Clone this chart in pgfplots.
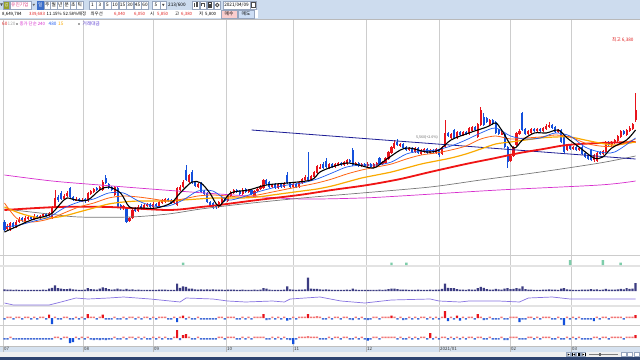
\documentclass[border=0pt]{standalone}
\usepackage{pgfplots}
\pgfplotsset{compat=1.18}
\usepackage{pgfplotstable}
\usepackage{fontspec}
\setmainfont{Noto Sans CJK KR}
\newcommand\tf{\fontsize{4.7}{5.2}\selectfont}
\newcommand\rf{\fontsize{4.4}{5}\selectfont}
\newcommand\sfs{\fontsize{4.5}{5}\selectfont}
\definecolor{tbbg}{RGB}{205,220,238}
\definecolor{cup}{RGB}{232,20,28}
\definecolor{cdn}{RGB}{20,80,220}
\definecolor{cupl}{RGB}{242,120,120}
\definecolor{cdnl}{RGB}{70,110,215}
\definecolor{ma10}{RGB}{30,90,240}
\definecolor{ma20}{RGB}{255,100,20}
\definecolor{ma40}{RGB}{250,170,0}
\definecolor{ma60}{RGB}{240,20,20}
\definecolor{ma120}{RGB}{120,120,120}
\definecolor{ma240}{RGB}{215,45,205}
\definecolor{trend}{RGB}{30,30,150}
\definecolor{cvol}{RGB}{60,60,130}
\definecolor{cpur}{RGB}{135,115,225}
\definecolor{cgrn}{RGB}{125,205,170}
\definecolor{gridc}{RGB}{205,205,205}
\definecolor{dateb}{RGB}{214,226,240}
\definecolor{navyb}{RGB}{46,68,112}
\definecolor{btnb}{RGB}{150,165,190}
\definecolor{selb}{RGB}{60,110,200}
\definecolor{txr}{RGB}{225,30,30}
\definecolor{txp}{RGB}{220,60,130}
\definecolor{txv}{RGB}{90,60,210}
\definecolor{olivec}{RGB}{150,160,40}
\definecolor{mbuy}{RGB}{250,205,205}
\definecolor{msell}{RGB}{205,222,245}
\newcommand{\btn}[3]{\draw[line width=0.4bp,btnb,fill=white] (#1,1) rectangle (#2,9); \node[inner sep=0pt] at ({(#1+#2)/2},5) {#3};}
\pgfplotsset{pan/.style={scale only axis, width=640bp, xmin=-1.5, xmax=213.5, axis lines=none, ticks=none, anchor=south west, clip=true}}
% o h l c = price, v = volume (thousand shares), p,q = lower indicator panels
\pgfplotstableread{
o h l c v p q
3800 3840 3620 3640 1800 -3 -3
3660 3760 3640 3720 1400 3 -3
3640 3800 3620 3780 1600 3 3
3780 3800 3680 3700 1200 -3 -3
3700 3840 3680 3800 1400 3 -3
3800 3900 3780 3860 1300 3 -3
3880 3900 3800 3820 1100 -3 -3
3820 3920 3800 3880 1200 3 -3
3860 3940 3840 3900 1300 3 -3
3900 3920 3840 3860 1100 -3 -3
3860 3960 3840 3920 1300 3 -3
3920 3940 3860 3880 1100 -3 -3
3880 3940 3860 3920 1200 3 -3
3920 3980 3900 3960 1400 3 -3
3960 3980 3900 3920 1200 -3 -3
3920 4000 3900 3980 2500 7 -3
3880 4120 3860 4100 3500 -12 -3
4100 4440 4080 4280 6000 3 3
4300 4340 4200 4240 3000 -3 3
4380 4420 4240 4260 2500 -3 -3
4260 4360 4240 4320 2000 3 3
4320 4420 4300 4380 2000 3 3
4480 4500 4280 4300 2500 -3 -10
4300 4320 4220 4240 1800 -3 -8
4240 4300 4220 4260 1400 3 3
4260 4280 4200 4220 1300 -3 -3
4220 4280 4200 4240 1300 3 3
4260 4280 4180 4220 1500 -3 -3
4220 4400 4200 4380 3000 8 3
4360 4440 4340 4420 2000 3 -3
4400 4480 4380 4460 1800 3 -4
4480 4500 4420 4440 1600 -3 -3
4440 4520 4420 4500 2500 3 -4
4440 4640 4420 4600 4000 7 -3
4680 4740 4560 4580 3000 -3 -4
4560 4580 4460 4500 2000 -3 -3
4500 4520 4420 4440 1600 -3 -3
4340 4520 4320 4500 1800 3 3
4480 4500 4080 4100 2500 -3 -3
4140 4160 4040 4080 1800 -3 -3
4080 4140 4040 4120 1400 3 3
4080 4100 3780 3800 2200 -3 -3
3820 3900 3800 3880 1600 3 3
3880 4060 3860 4040 1800 3 3
4060 4100 4000 4020 1300 -3 -3
4020 4140 4000 4100 1400 3 3
4120 4160 4040 4060 1200 -3 -3
4060 4160 4040 4140 1300 3 3
4120 4180 4100 4160 1200 3 -3
4160 4180 4080 4100 1100 -3 -3
4100 4200 4080 4160 1200 3 3
4160 4180 4100 4120 1100 -3 -3
4120 4220 4100 4200 1400 3 3
4180 4260 4160 4240 1500 3 -3
4200 4280 4180 4260 1400 3 3
4260 4280 4200 4220 1200 -3 -3
4240 4260 4160 4180 1300 -3 -3
4180 4240 4160 4220 1200 3 3
4140 4500 4120 4480 8000 -8 16
4440 4540 4420 4500 3500 3 -4
4500 4640 4480 4600 5000 5 6
4840 4940 4620 4640 4500 -3 8
4600 4760 4580 4740 2500 3 3
4800 4840 4560 4580 2500 -3 -3
4600 4620 4500 4520 1800 -3 -3
4500 4580 4480 4560 1500 3 3
4580 4600 4380 4400 1800 -3 -3
4420 4440 4340 4360 1500 -3 -3
4380 4400 4180 4200 1800 -3 -3
4200 4220 4100 4140 1600 -3 -3
4180 4200 4060 4080 1700 -3 -3
4140 4160 4060 4100 1400 -3 -3
4100 4220 4080 4200 1500 3 3
4180 4300 4160 4280 1600 3 3
4280 4300 4200 4220 1300 -3 -3
4220 4340 4200 4320 1400 3 3
4320 4420 4300 4400 1500 3 3
4380 4460 4360 4440 1400 3 3
4440 4460 4380 4400 1200 -3 -3
4420 4440 4340 4360 1200 -3 -3
4360 4480 4340 4440 1400 3 3
4460 4480 4380 4400 1200 -3 -3
4400 4460 4380 4440 1200 3 3
4440 4460 4340 4360 1300 -3 -3
4300 4440 4280 4420 1400 3 3
4420 4480 4400 4460 1300 3 3
4460 4540 4440 4500 1500 3 3
4480 4660 4460 4640 3000 8 3
4640 4660 4540 4560 2500 -4 -3
4600 4620 4480 4500 1600 -3 -3
4500 4560 4480 4540 1300 3 3
4560 4580 4460 4480 1200 -3 -3
4480 4580 4460 4560 1300 3 3
4560 4580 4480 4500 1200 -3 -3
4500 4600 4480 4580 1400 3 3
4740 4800 4560 4580 5000 -5 -3
4580 4600 4480 4500 1800 -3 -4
4500 4580 4480 4560 1500 3 -12
4560 4580 4480 4500 1300 -3 -3
4500 4620 4480 4600 1500 3 3
4580 4680 4560 4660 1600 3 3
4640 4740 4620 4700 1700 3 3
4700 5200 4620 4640 14500 8 4
4640 4740 4620 4720 2500 3 3
4700 4820 4680 4800 2200 3 3
4780 4940 4760 4920 2400 4 3
4880 4960 4860 4900 1800 3 -3
4960 5000 4860 4880 1600 -3 -3
5020 5080 4880 4900 1800 -3 -3
4880 4980 4860 4960 1400 3 3
4960 4980 4880 4900 1300 -3 -3
4900 4980 4880 4960 1300 3 3
4940 5000 4920 4980 1200 3 3
4980 5000 4920 4940 1200 -3 -3
4940 5020 4920 5000 1300 3 3
4960 5060 4940 5040 1500 3 3
5040 5060 4980 5000 1300 -3 -3
5240 5280 4920 4940 2500 -4 -3
4940 5000 4920 4980 1400 3 3
4980 5000 4900 4920 1200 -3 -3
4920 4980 4900 4960 1200 3 3
4960 4980 4900 4920 1100 -3 -3
4920 5000 4900 4960 1200 -4 -5
4960 4980 4880 4900 1100 -3 -3
4900 4980 4880 4960 1200 3 3
4940 5000 4920 4980 1200 3 3
5080 5100 4940 4960 1500 -3 -3
4960 5020 4940 5000 1300 3 3
4980 5100 4960 5080 1600 3 3
5060 5220 5040 5200 2000 3 3
5180 5320 5160 5300 2500 5 3
5280 5440 5260 5380 2500 3 3
5400 5460 5320 5340 2000 -3 -3
5320 5380 5300 5360 1500 3 3
5360 5380 5260 5280 1600 -4 -3
5300 5320 5220 5240 1500 -3 -3
5240 5300 5220 5280 1300 3 3
5280 5300 5180 5200 1300 -3 -3
5200 5300 5180 5280 1300 3 3
5280 5300 5160 5180 1400 -3 -3
5160 5260 5140 5240 1300 3 3
5200 5280 5180 5260 1300 3 3
5260 5280 5160 5180 1300 -3 -3
5180 5260 5160 5240 1500 3 10
5240 5260 5180 5200 1300 -3 -3
5180 5280 5160 5260 1400 3 3
5240 5260 5100 5140 1600 -3 -3
5160 5320 5140 5300 2200 3 3
5300 5840 5280 5580 8000 14 3
5580 5600 5500 5520 3500 -6 -3
5480 5580 5460 5560 3000 3 3
5640 5660 5460 5480 3000 -3 -3
5480 5620 5460 5600 2000 5 3
5600 5620 5520 5540 1600 -5 -3
5540 5620 5520 5600 1500 3 3
5600 5620 5540 5560 1300 -3 -3
5560 5700 5540 5680 1800 3 3
5620 5720 5600 5700 1600 3 3
5700 5720 5620 5640 1400 -3 -3
5500 5780 5480 5760 3000 8 3
5740 6100 5720 6040 4500 3 3
5900 5980 5720 5740 3500 -4 -3
5880 5900 5780 5800 2000 -3 -3
5760 5860 5740 5840 1600 3 3
5840 5860 5740 5760 1500 -3 -3
5800 5820 5560 5580 2200 -3 -3
5640 5660 5540 5560 1800 -3 -3
5560 5620 5540 5580 1500 3 3
5560 5580 5280 5300 2500 -3 -4
5300 5320 4880 5000 3000 -3 -4
5020 5140 5000 5120 2000 3 3
5120 5320 5100 5300 2200 3 3
5340 5600 5320 5580 3000 3 3
5560 5660 5540 5620 2500 -8 -3
5980 6000 5620 5640 5000 -3 -3
5660 5680 5540 5560 2000 -3 -3
5560 5640 5540 5620 1600 3 3
5580 5680 5560 5660 1500 3 3
5660 5680 5600 5620 1300 -3 -3
5620 5680 5600 5660 1300 3 3
5660 5680 5600 5620 1200 -3 -3
5620 5700 5600 5680 1400 3 3
5660 5760 5640 5720 1600 3 3
5700 5800 5680 5740 1700 3 3
5740 5760 5660 5680 1400 -3 -3
5700 5720 5580 5600 1500 -3 -3
5600 5660 5580 5640 1300 3 3
5640 5660 5380 5400 2500 -3 -3
5500 5520 5180 5200 3000 -14 -3
5240 5360 5220 5340 1800 3 3
5340 5360 5240 5260 1500 -3 -3
5260 5320 5240 5300 1300 3 3
5300 5320 5220 5240 1300 -3 -3
5240 5300 5220 5280 1300 3 3
5300 5320 5140 5160 1600 -3 -3
5180 5200 5080 5100 1500 -3 -3
5120 5140 5040 5060 1500 -3 -3
5240 5260 5020 5040 2000 -3 -3
5040 5160 5000 5140 1600 -6 3
5020 5200 5000 5180 1700 3 3
5200 5220 5140 5160 1300 -3 -3
5160 5240 5140 5220 1400 3 3
5200 5420 5180 5400 2200 3 3
5400 5420 5320 5340 1600 -3 -3
5340 5420 5320 5400 1500 3 3
5380 5460 5360 5440 1500 3 3
5420 5540 5400 5520 1800 3 3
5500 5640 5480 5620 2200 3 3
5620 5640 5540 5560 1800 -3 -3
5540 5660 5520 5640 3000 3 3
5620 5720 5600 5680 2200 3 3
5660 5780 5640 5760 2500 3 3
5850 6380 5800 6040 8650 6 6
}\data
\begin{document}
\begin{tikzpicture}[x=1bp,y=1bp,font=\tf]
\useasboundingbox (0,0) rectangle (640,360);
\clip (0,0) rectangle (640,360);
\fill[white] (0,0) rectangle (640,360);
\begin{scope}[shift={(0,360)},yscale=-1]
  % toolbar
  \fill[tbbg] (0,0) rectangle (640,19.5);
  \draw[line width=0.8bp,gray!55] (0,19.6) -- (640,19.6);
  \fill[white] (0.5,10) rectangle (258,18.5);
  \fill[black!70] (0.2,3.5) -- (2.8,3.5) -- (1.5,6) -- cycle;
  \draw[line width=0.4bp,btnb,fill=olivec] (3.4,1.2) rectangle (9.4,8.8);
  \node[white,inner sep=0pt,font=\fontsize{4}{4}\selectfont] at (6.4,5) {검};
  \draw[line width=0.4bp,btnb,fill=white] (10,1) rectangle (31.5,9);
  \node[txp,anchor=west,inner sep=0pt] at (11,5) {유진기업};
  \fill[black!60] (32.5,3.8) -- (35,3.8) -- (33.75,6.2) -- cycle;
  \draw[line width=0.4bp,selb,fill=selb] (37,1) rectangle (43.5,9);
  \node[white,inner sep=0pt] at (40.25,5) {일};
  \btn{44}{50.5}{주}\btn{50.5}{57}{월}\btn{57}{63.5}{년}\btn{63.5}{70}{분}\btn{70}{76.5}{초}\btn{76.5}{83}{틱}
  \btn{89}{96}{1}\btn{96.5}{103.5}{3}\btn{104}{111}{5}\btn{111.5}{118.5}{10}\btn{119}{126}{15}\btn{126.5}{133.5}{30}\btn{134}{141}{45}\btn{141.5}{148.5}{60}
  \draw[line width=0.4bp,btnb,fill=white] (152,1) rectangle (166,9);
  \node[inner sep=0pt] at (156,5) {5};
  \draw[line width=0.4bp,btnb] (160.5,1) -- (160.5,9);
  \fill[black!70] (162,4) -- (164.5,4) -- (163.25,6.2) -- cycle;
  \node[anchor=west,inner sep=0pt] at (168,5) {213/600};
  \draw[line width=0.4bp,btnb,fill=white] (192,1) rectangle (199,9);
  \fill[black!70] (193.5,3) rectangle (194.5,7); \fill[black!70] (196,2.5) rectangle (197.5,7.5);
  \draw[line width=0.4bp,btnb,fill=white] (200,1) rectangle (206.5,9);
  \draw[line width=0.5bp,black!70] (201.5,3) -- (204.5,3) -- (204.5,7); \draw[line width=0.5bp,black!70] (201.5,3) -- (201.5,6);
  \draw[line width=0.4bp,btnb,fill=white] (207,1) rectangle (213.5,9);
  \fill[black!75] (208.2,2.2) rectangle (212.3,7.8); \fill[white] (209.2,2.7) rectangle (211.3,4.5);
  \draw[line width=0.4bp,btnb,fill=white] (214,1) rectangle (220.5,9);
  \draw[line width=0.8bp,black!70] (217.25,5) circle (1.7);
  \draw[line width=0.4bp,btnb,fill=white] (223,1) rectangle (250,9);
  \node[inner sep=0pt] at (236.5,5) {2021/04/09};
  \draw[line width=0.4bp,btnb,fill=white] (250.5,1) rectangle (256,9);
  \draw[line width=0.4bp,black!70] (251.5,2.5) rectangle (255,7.5);
  % row 2
  \begin{scope}[font=\rf]
  \node[anchor=west,inner sep=0pt] at (2,14.2) {8,649,784};
  \node[anchor=west,inner sep=0pt,txr] at (29,14.2) {339,683};
  \node[anchor=west,inner sep=0pt] at (46.5,14.2) {11.15\%};
  \node[anchor=west,inner sep=0pt] at (63,14.2) {52.58\%매정};
  \node[anchor=west,inner sep=0pt] at (90.5,14.2) {최우선};
  \node[anchor=west,inner sep=0pt,txr] at (114,14.2) {6,040};
  \node[anchor=west,inner sep=0pt,txr] at (134,14.2) {6,050};
  \node[anchor=west,inner sep=0pt] at (150,14.2) {시};
  \node[anchor=west,inner sep=0pt,txr] at (157,14.2) {5,850};
  \node[anchor=west,inner sep=0pt] at (175,14.2) {고};
  \node[anchor=west,inner sep=0pt,txr] at (181,14.2) {6,380};
  \node[anchor=west,inner sep=0pt] at (199,14.2) {저};
  \node[anchor=west,inner sep=0pt] at (205,14.2) {5,800};
  \end{scope}
  \draw[line width=0.4bp,btnb,fill=mbuy] (221,10.5) rectangle (237,18);
  \node[inner sep=0pt] at (229,14.2) {매수};
  \draw[line width=0.4bp,btnb,fill=msell] (238,10.5) rectangle (254,18);
  \node[inner sep=0pt] at (246,14.2) {매도};
  % grid and panel separators
  \foreach \gx in {3,83,153,226,293,366,439,510,571} \draw[gridc,line width=0.8bp] (\gx,20) -- (\gx,352);
  \draw[gray!40,line width=0.7bp] (0,255.5) -- (640,255.5);
  \fill[gray!22] (0,265.2) rectangle (640,267);
  \fill[gray!22] (0,305.2) rectangle (640,307);
  \draw[gray!40,line width=0.7bp] (0,325.5) -- (640,325.5);
  \fill[dateb] (0,346) rectangle (640,352);
  \draw[gray!50,line width=0.5bp] (0,346) -- (640,346);
  \foreach \gx in {3,83,153,226,293,366,439,510,571} \draw[gray!55,line width=0.6bp] (\gx,346) -- (\gx,352);
  \fill[gray!12] (0,352) rectangle (640,357);
  \fill[navyb] (0,357) rectangle (640,360);
\end{scope}

% green signal panel
\begin{axis}[pan, at={(0bp,95bp)}, height=10bp, ymin=0, ymax=10]
\addplot[ybar, bar width=0.8, bar shift=0pt, fill=cgrn, draw=none] coordinates {(60,2.5) (130,2.5) (135,2.5) (190,5) (201,5) (207,2.5)};
\end{axis}

% volume panel
\begin{axis}[pan, at={(0bp,69bp)}, height=24bp, ymin=0, ymax=26000]
\addplot[ybar, bar width=0.75, bar shift=0pt, fill=cvol, draw=none] table[x expr=\lineno, y=v]{\data};
\end{axis}

% line indicator panel
\begin{axis}[pan, at={(0bp,54bp)}, height=14bp, ymin=0, ymax=14]
\addplot[cpur, line width=0.7bp] coordinates {(0,3) (3,1) (15,1) (19,4) (24,8) (28,7) (35,8) (40,9) (49,7) (59,4) (61,8) (70,7) (75,5) (81,4) (90,5) (94,4) (96,7) (106,9) (113,5) (121,3) (130,6) (143,7) (146,5) (153,4) (156,5) (166,5) (173,4) (176,8) (184,9) (190,7) (212,7)};
\end{axis}

% bar indicator panel 1
\begin{axis}[pan, at={(0bp,35bp)}, height=18bp, ymin=-14, ymax=22]
\addplot[ybar, bar width=0.75, bar shift=0pt, fill=cupl, draw=none, restrict y to domain=0:4.9] table[x expr=\lineno, y=p]{\data};
\addplot[ybar, bar width=0.75, bar shift=0pt, fill=cdnl, draw=none, restrict y to domain=-4.9:0] table[x expr=\lineno, y=p]{\data};
\addplot[ybar, bar width=0.75, bar shift=0pt, fill=cup, draw=none, restrict y to domain=5:100] table[x expr=\lineno, y=p]{\data};
\addplot[ybar, bar width=0.75, bar shift=0pt, fill=cdn, draw=none, restrict y to domain=-100:-5] table[x expr=\lineno, y=p]{\data};
\end{axis}

% bar indicator panel 2
\begin{axis}[pan, at={(0bp,14bp)}, height=21bp, ymin=-16, ymax=26]
\addplot[ybar, bar width=0.75, bar shift=0pt, fill=cupl, draw=none, restrict y to domain=0:4.9] table[x expr=\lineno, y=q]{\data};
\addplot[ybar, bar width=0.75, bar shift=0pt, fill=cdnl, draw=none, restrict y to domain=-4.9:0] table[x expr=\lineno, y=q]{\data};
\addplot[ybar, bar width=0.75, bar shift=0pt, fill=cup, draw=none, restrict y to domain=5:100] table[x expr=\lineno, y=q]{\data};
\addplot[ybar, bar width=0.75, bar shift=0pt, fill=cdn, draw=none, restrict y to domain=-100:-5] table[x expr=\lineno, y=q]{\data};
\end{axis}

% price panel
\begin{axis}[pan, at={(0bp,105bp)}, height=235bp, ymin=3140, ymax=7840]
% wicks
\addplot[draw=none, mark=none, restrict expr to domain={\thisrow{c}-\thisrow{o}}{0:100000},
  error bars/.cd, y dir=both, y explicit, error mark=none, error bar style={line width=0.6bp, draw=cup}]
  table[x expr=\lineno, y expr=(\thisrow{h}+\thisrow{l})/2, y error expr=(\thisrow{h}-\thisrow{l})/2]{\data};
\addplot[draw=none, mark=none, restrict expr to domain={\thisrow{c}-\thisrow{o}}{-100000:-1},
  error bars/.cd, y dir=both, y explicit, error mark=none, error bar style={line width=0.6bp, draw=cdn}]
  table[x expr=\lineno, y expr=(\thisrow{h}+\thisrow{l})/2, y error expr=(\thisrow{h}-\thisrow{l})/2]{\data};
% bodies
\addplot[draw=none, mark=none, restrict expr to domain={\thisrow{c}-\thisrow{o}}{0:100000},
  error bars/.cd, y dir=both, y explicit, error mark=none, error bar style={line width=2.1bp, draw=cup}]
  table[x expr=\lineno, y expr=(\thisrow{o}+\thisrow{c})/2, y error expr=abs(\thisrow{c}-\thisrow{o})/2]{\data};
\addplot[draw=none, mark=none, restrict expr to domain={\thisrow{c}-\thisrow{o}}{-100000:-1},
  error bars/.cd, y dir=both, y explicit, error mark=none, error bar style={line width=2.1bp, draw=cdn}]
  table[x expr=\lineno, y expr=(\thisrow{o}+\thisrow{c})/2, y error expr=abs(\thisrow{c}-\thisrow{o})/2]{\data};
% moving averages
\addplot[ma240, line width=0.7bp, smooth] coordinates {(0,4740) (16,4620) (32,4540) (58,4420) (82,4320) (100,4260) (120,4280) (133,4320) (166,4440) (200,4540) (212,4620)};
\addplot[ma120, line width=0.7bp, smooth] coordinates {(0,4060) (15,3960) (25,3900) (42,3900) (55,3960) (66,4060) (80,4160) (100,4280) (120,4380) (143,4500) (160,4640) (180,4800) (200,4980) (212,5120)};
\addplot[trend, line width=0.8bp] coordinates {(83,5640) (212,5060)};
\addplot[ma60, line width=1.8bp, smooth] coordinates {(0,4040) (18,4100) (35,4100) (55,4040) (66,4100) (72,4140) (85,4240) (99,4340) (110,4440) (122,4540) (133,4660) (143,4800) (155,4960) (165,5080) (173,5180) (181,5260) (189,5340) (200,5380) (212,5400)};
\addplot[ma40, line width=1.2bp, smooth] coordinates {(0,4100) (5,3980) (10,3900) (15,3880) (20,3920) (25,4000) (30,4080) (35,4160) (40,4200) (45,4220) (50,4220) (55,4220) (60,4240) (65,4260) (70,4280) (75,4280) (80,4280) (85,4300) (90,4340) (95,4380) (100,4420) (105,4460) (110,4520) (115,4600) (120,4680) (125,4740) (130,4800) (135,4880) (140,4960) (145,5020) (150,5080) (155,5160) (160,5260) (165,5360) (170,5400) (175,5440) (180,5480) (185,5500) (190,5500) (195,5440) (200,5380) (205,5340) (212,5400)};
\addplot[ma20, line width=0.8bp, smooth] coordinates {(0,4180) (4,3880) (8,3800) (12,3820) (16,3880) (20,3980) (25,4100) (30,4180) (35,4280) (40,4320) (45,4300) (50,4260) (55,4220) (60,4260) (65,4320) (70,4340) (75,4320) (80,4300) (85,4340) (90,4400) (95,4460) (100,4520) (105,4580) (110,4660) (115,4760) (120,4840) (125,4900) (130,4960) (135,5060) (140,5140) (145,5180) (150,5240) (155,5320) (160,5460) (165,5520) (170,5460) (175,5480) (180,5500) (185,5540) (190,5500) (195,5380) (200,5320) (205,5320) (212,5460)};
\addplot[ma10, line width=0.7bp, smooth] coordinates {(0,3700) (5,3740) (10,3820) (15,3900) (20,4080) (25,4200) (30,4260) (35,4380) (40,4380) (45,4220) (50,4120) (55,4120) (60,4240) (65,4420) (70,4420) (75,4240) (80,4300) (85,4400) (90,4480) (95,4540) (100,4580) (105,4660) (110,4780) (115,4900) (120,4940) (125,4940) (130,5000) (135,5160) (140,5220) (145,5240) (150,5320) (155,5440) (160,5580) (165,5680) (170,5520) (175,5460) (180,5480) (185,5580) (190,5520) (195,5300) (200,5200) (205,5200) (212,5480)};
\addplot[black, line width=1.1bp, smooth] coordinates {(0,3600) (3,3680) (9,3840) (15,3940) (17,4040) (19,4180) (21,4280) (24,4240) (28,4240) (32,4440) (35,4500) (39,4380) (42,4100) (46,4080) (51,4080) (56,4180) (59,4380) (63,4600) (66,4580) (69,4380) (72,4120) (76,4380) (82,4440) (88,4540) (95,4580) (103,4640) (106,4800) (110,4900) (115,4980) (119,4940) (124,4880) (128,5040) (133,5240) (136,5280) (142,5200) (146,5240) (150,5440) (156,5580) (162,5700) (165,5780) (167,5640) (171,5280) (174,5440) (178,5580) (182,5580) (186,5640) (189,5480) (193,5300) (198,5080) (201,5100) (204,5280) (209,5440) (212,5640)};
\end{axis}

\begin{scope}[shift={(0,360)},yscale=-1]
  % legend row
  \node[anchor=west,inner sep=0pt,txr] at (2,24) {60};
  \node[anchor=west,inner sep=0pt,gray!70] at (7.5,24) {120};
  \fill[gray!70] (15.5,22.6) rectangle (17.7,24.8);
  \node[anchor=west,inner sep=0pt,ma240,font=\rf] at (19.5,24) {종가 단순 240};
  \node[anchor=west,inner sep=0pt,ma10] at (48.5,24) {480};
  \node[anchor=west,inner sep=0pt,ma40] at (58,24) {15};
  \fill[gray!70] (78,22.6) rectangle (80.2,24.8);
  \node[anchor=west,inner sep=0pt,txv] at (82.5,24) {거래대금};
  \node[anchor=west,inner sep=0pt,txr] at (612,40) {최고 6,380};
  \node[anchor=west,inner sep=0pt,gray!80!black,font=\fontsize{3.6}{4}\selectfont] at (416,137.5) {5,560(+2.6\%)};
  % dates
  \foreach \gx/\lb in {4/07,84/08,154/09,227/10,294/11,367/12,440/2021\slash 01,511/02,572/03}
    \node[anchor=west,inner sep=0pt,font=\sfs,black!80] at (\gx,349.2) {\lb};
  % bottom controls
  \foreach \bx in {566,571,576,581} \draw[line width=0.4bp,btnb,fill=white] (\bx,352.5) rectangle ({\bx+4.5},356.6);
  \fill[black] (567.5,353.3) -- (569.6,354.55) -- (567.5,355.8) -- cycle;
  \fill[black] (572.4,353.3) rectangle (572.9,355.8); \fill[black] (575.2,353.3) -- (573.2,354.55) -- (575.2,355.8) -- cycle;
  \fill[black] (577.5,353.3) rectangle (578.3,355.8); \fill[black] (579,353.3) rectangle (579.8,355.8);
  \fill[black] (582.3,353.3) -- (584.3,354.55) -- (582.3,355.8) -- cycle; \fill[black] (584.5,353.3) rectangle (585,355.8);
  \draw[gray,line width=0.5bp] (589,354.6) -- (618,354.6);
  \fill[gray!80!black] (599,353) rectangle (600.5,356.2);
  \draw[line width=0.4bp,btnb,fill=white] (621,352.5) rectangle (626,356.6);
  \draw[line width=0.4bp,btnb,fill=white] (627.5,352.5) rectangle (632.5,356.6);
  \draw[line width=0.4bp,btnb,fill=white] (634,352.5) rectangle (639,356.6);
\end{scope}
\end{tikzpicture}
\end{document}
